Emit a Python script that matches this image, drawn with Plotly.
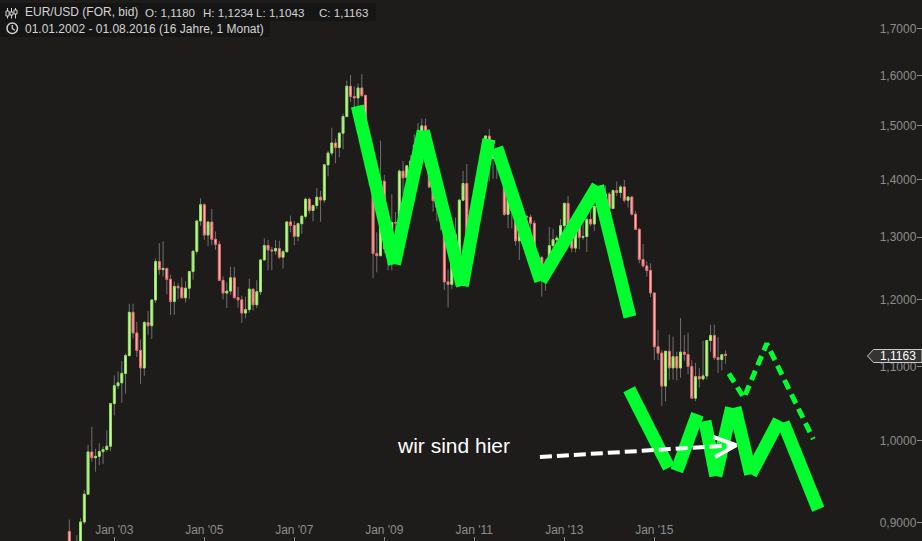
import numpy as np
import plotly.graph_objects as go

W, H = 922, 541

# ---------------- monthly EUR/USD candles, Jan 2002 .. Aug 2016 ----------------
opens = [
    0.8900, 0.8627, 0.8697, 0.8718, 0.9009, 0.9337, 0.9859, 0.9786, 0.9803, 0.9863, 0.9890, 0.9932,
    1.0492, 1.0736, 1.0776, 1.0908, 1.1162, 1.1800, 1.1491, 1.1236, 1.0985, 1.1647, 1.1598, 1.1990,
    1.2597, 1.2468, 1.2486, 1.2312, 1.1965, 1.2201, 1.2180, 1.2023, 1.2173, 1.2436, 1.2765, 1.3273,
    1.3554, 1.3035, 1.3255, 1.2964, 1.2880, 1.2296, 1.2096, 1.2127, 1.2336, 1.2025, 1.1992, 1.1789,
    1.1842, 1.2158, 1.1916, 1.2117, 1.2624, 1.2861, 1.2788, 1.2771, 1.2811, 1.2669, 1.2758, 1.3257,
    1.3197, 1.3013, 1.3227, 1.3354, 1.3651, 1.3453, 1.3541, 1.3686, 1.3637, 1.4268, 1.4486, 1.4675,
    1.4590, 1.4862, 1.5183, 1.5787, 1.5581, 1.5552, 1.5752, 1.5600, 1.4674, 1.4082, 1.2728, 1.2693,
    1.3970, 1.2807, 1.2670, 1.3249, 1.3238, 1.4152, 1.4033, 1.4250, 1.4339, 1.4634, 1.4719, 1.5002,
    1.4320, 1.3865, 1.3627, 1.3510, 1.3296, 1.2272, 1.2233, 1.3049, 1.2681, 1.3634, 1.3929, 1.3000,
    1.3380, 1.3696, 1.3826, 1.4164, 1.4807, 1.4389, 1.4503, 1.4393, 1.4368, 1.3387, 1.3864, 1.3445,
    1.2939, 1.3083, 1.3351, 1.3340, 1.3235, 1.2370, 1.2664, 1.2298, 1.2576, 1.2858, 1.2957, 1.2985,
    1.3193, 1.3578, 1.3060, 1.2818, 1.3169, 1.2998, 1.3010, 1.3302, 1.3222, 1.3525, 1.3583, 1.3591,
    1.3743, 1.3488, 1.3803, 1.3768, 1.3868, 1.3633, 1.3690, 1.3390, 1.3131, 1.2631, 1.2526, 1.2452,
    1.2098, 1.1290, 1.1197, 1.0731, 1.1224, 1.0986, 1.1145, 1.0985, 1.1211, 1.1177, 1.1006, 1.0566,
    1.0862, 1.0831, 1.0873, 1.1380, 1.1453, 1.1132, 1.1104, 1.1180,
]
highs = [
    0.9037, 0.8780, 0.8857, 0.9053, 0.9389, 0.9951, 1.0184, 0.9900, 0.9973, 0.9930, 1.0139, 1.0497,
    1.0879, 1.0938, 1.1082, 1.1193, 1.1932, 1.1932, 1.1658, 1.1397, 1.1672, 1.1822, 1.1999, 1.2647,
    1.2899, 1.2930, 1.2500, 1.2385, 1.2275, 1.2250, 1.2341, 1.2283, 1.2440, 1.2789, 1.3295, 1.3667,
    1.3580, 1.3280, 1.3478, 1.3094, 1.2936, 1.2360, 1.2265, 1.2515, 1.2511, 1.2195, 1.2054, 1.2041,
    1.2323, 1.2161, 1.2299, 1.2638, 1.2979, 1.2953, 1.2840, 1.2950, 1.2941, 1.2790, 1.3264, 1.3366,
    1.3273, 1.3246, 1.3375, 1.3682, 1.3682, 1.3533, 1.3852, 1.3800, 1.4283, 1.4528, 1.4967, 1.4761,
    1.4875, 1.5240, 1.5905, 1.6019, 1.5785, 1.5843, 1.6038, 1.5622, 1.4866, 1.4139, 1.3081, 1.4719,
    1.4088, 1.3055, 1.3739, 1.3429, 1.4187, 1.4338, 1.4265, 1.4445, 1.4844, 1.5062, 1.5144, 1.5145,
    1.4579, 1.3985, 1.3814, 1.3694, 1.3373, 1.2470, 1.3101, 1.3334, 1.3657, 1.4158, 1.4282, 1.3500,
    1.3797, 1.3862, 1.4249, 1.4815, 1.4940, 1.4699, 1.4579, 1.4550, 1.4475, 1.4247, 1.3876, 1.3548,
    1.3235, 1.3487, 1.3386, 1.3384, 1.3283, 1.2748, 1.2692, 1.2637, 1.3172, 1.3140, 1.3031, 1.3308,
    1.3590, 1.3711, 1.3202, 1.3243, 1.3243, 1.3416, 1.3345, 1.3452, 1.3569, 1.3832, 1.3621, 1.3894,
    1.3775, 1.3824, 1.3967, 1.3906, 1.3994, 1.3700, 1.3700, 1.3444, 1.3150, 1.2887, 1.2600, 1.2570,
    1.2104, 1.1534, 1.1239, 1.1225, 1.1467, 1.1436, 1.1216, 1.1714, 1.1459, 1.1495, 1.1094, 1.1059,
    1.0985, 1.1376, 1.1388, 1.1616, 1.1616, 1.1428, 1.1186, 1.1234,
]
lows = [
    0.8594, 0.8565, 0.8677, 0.8694, 0.8984, 0.9331, 0.9737, 0.9611, 0.9692, 0.9705, 0.9862, 0.9867,
    1.0335, 1.0692, 1.0502, 1.0627, 1.1142, 1.1411, 1.1140, 1.0763, 1.0873, 1.1466, 1.1402, 1.1942,
    1.2387, 1.2356, 1.2077, 1.1760, 1.1759, 1.2000, 1.2015, 1.1951, 1.2003, 1.2308, 1.2714, 1.3193,
    1.2955, 1.2850, 1.2871, 1.2788, 1.2290, 1.1998, 1.1868, 1.2070, 1.2011, 1.1870, 1.1640, 1.1710,
    1.1795, 1.1826, 1.1864, 1.2067, 1.2616, 1.2457, 1.2456, 1.2708, 1.2637, 1.2482, 1.2747, 1.3083,
    1.2866, 1.2931, 1.3056, 1.3312, 1.3400, 1.3266, 1.3482, 1.3261, 1.3588, 1.4058, 1.4438, 1.4297,
    1.4409, 1.4558, 1.5170, 1.5475, 1.5285, 1.5302, 1.5568, 1.4605, 1.3882, 1.2329, 1.2424, 1.2681,
    1.2731, 1.2456, 1.2455, 1.2885, 1.3139, 1.3747, 1.3853, 1.4046, 1.4217, 1.4556, 1.4672, 1.4219,
    1.3857, 1.3436, 1.3267, 1.3115, 1.2143, 1.1876, 1.2155, 1.2588, 1.2645, 1.3627, 1.2969, 1.2967,
    1.2867, 1.3445, 1.3746, 1.4106, 1.3968, 1.4013, 1.4014, 1.4053, 1.3363, 1.3147, 1.3145, 1.2857,
    1.2624, 1.2976, 1.3000, 1.2996, 1.2335, 1.2288, 1.2042, 1.2134, 1.2555, 1.2802, 1.2662, 1.2927,
    1.3003, 1.3017, 1.2750, 1.2746, 1.2795, 1.2955, 1.2755, 1.3180, 1.3104, 1.3482, 1.3296, 1.3547,
    1.3477, 1.3479, 1.3705, 1.3673, 1.3589, 1.3503, 1.3366, 1.3130, 1.2571, 1.2500, 1.2358, 1.2035,
    1.1098, 1.1097, 1.0458, 1.0520, 1.0819, 1.0819, 1.0808, 1.0846, 1.1087, 1.0896, 1.0557, 1.0523,
    1.0711, 1.0810, 1.0822, 1.1217, 1.1098, 1.0912, 1.0952, 1.1043,
]
closes = [
    0.8627, 0.8697, 0.8718, 0.9009, 0.9337, 0.9859, 0.9786, 0.9803, 0.9863, 0.9890, 0.9932, 1.0492,
    1.0736, 1.0776, 1.0908, 1.1162, 1.1800, 1.1491, 1.1236, 1.0985, 1.1647, 1.1598, 1.1990, 1.2597,
    1.2468, 1.2486, 1.2312, 1.1965, 1.2201, 1.2180, 1.2023, 1.2173, 1.2436, 1.2765, 1.3273, 1.3554,
    1.3035, 1.3255, 1.2964, 1.2880, 1.2296, 1.2096, 1.2127, 1.2336, 1.2025, 1.1992, 1.1789, 1.1842,
    1.2158, 1.1916, 1.2117, 1.2624, 1.2861, 1.2788, 1.2771, 1.2811, 1.2669, 1.2758, 1.3257, 1.3197,
    1.3013, 1.3227, 1.3354, 1.3651, 1.3453, 1.3541, 1.3686, 1.3637, 1.4268, 1.4486, 1.4675, 1.4590,
    1.4862, 1.5183, 1.5787, 1.5581, 1.5552, 1.5752, 1.5600, 1.4674, 1.4082, 1.2728, 1.2693, 1.3970,
    1.2807, 1.2670, 1.3249, 1.3238, 1.4152, 1.4033, 1.4250, 1.4339, 1.4634, 1.4719, 1.5002, 1.4320,
    1.3865, 1.3627, 1.3510, 1.3296, 1.2272, 1.2233, 1.3049, 1.2681, 1.3634, 1.3929, 1.3000, 1.3380,
    1.3696, 1.3826, 1.4164, 1.4807, 1.4389, 1.4503, 1.4393, 1.4368, 1.3387, 1.3864, 1.3445, 1.2939,
    1.3083, 1.3351, 1.3340, 1.3235, 1.2370, 1.2664, 1.2298, 1.2576, 1.2858, 1.2957, 1.2985, 1.3193,
    1.3578, 1.3060, 1.2818, 1.3169, 1.2998, 1.3010, 1.3302, 1.3222, 1.3525, 1.3583, 1.3591, 1.3743,
    1.3488, 1.3803, 1.3768, 1.3868, 1.3633, 1.3690, 1.3390, 1.3131, 1.2631, 1.2526, 1.2452, 1.2098,
    1.1290, 1.1197, 1.0731, 1.1224, 1.0986, 1.1145, 1.0985, 1.1211, 1.1177, 1.1006, 1.0566, 1.0862,
    1.0831, 1.0873, 1.1380, 1.1453, 1.1132, 1.1104, 1.1174, 1.1163,
]

x_tick_months = [12, 36, 60, 84, 108, 132, 156]
x_tick_labels = ["Jan '03", "Jan '05", "Jan '07", "Jan '09", "Jan '11", "Jan '13", "Jan '15"]
y_tick_values = [0.9, 1.0, 1.1, 1.2, 1.3, 1.4, 1.5, 1.6, 1.7]
y_tick_labels = [f"{v:.4f}".replace(".", ",") for v in y_tick_values]

last_price = 1.1163
header_title = "EUR/USD (FOR, bid)"
header_ohlc = [("O", 1.1180), ("H", 1.1234), ("L", 1.1043), ("C", 1.1163)]
header_period = "01.01.2002 - 01.08.2016 (16 Jahre, 1 Monat)"

# hand-drawn sketch: strokes as (month0, price0, month1, price1)
wave_top = [
    (76.8, 1.539, 86.7, 1.2555),
    (86.7, 1.2555, 94.4, 1.4905),
    (94.4, 1.4905, 104.8, 1.2209),
    (104.8, 1.2209, 111.9, 1.4747),
    (114.0, 1.4588, 125.7, 1.2288),
    (125.7, 1.2288, 140.9, 1.3886),
    (140.9, 1.3886, 149.5, 1.1731),
]
wave_bottom = [
    (149.3, 1.0688, 159.9, 0.9662),
    (162.0, 0.9621, 167.5, 1.0350),
    (169.5, 1.0261, 172.4, 0.9559),
    (172.4, 0.9559, 176.6, 1.0438),
    (177.5, 1.0438, 181.7, 0.9580),
    (181.7, 0.9580, 189.3, 1.0270),
    (190.4, 1.0238, 199.7, 0.9158),
]
dashed_path_m = [175.9, 179.9, 186.0, 198.4]
dashed_path_p = [1.0905, 1.0569, 1.1335, 1.0022]
arrow_m = [125.5, 177.8]
arrow_p = [0.9796, 0.99448]
arrow_head_m = [171.7, 177.8, 172.2]
arrow_head_p = [1.00516, 0.99448, 0.9796]
note_text = "wir sind hier"
note_m, note_p = 102.45, 0.9936

BG = "#1d1c1b"
GREEN = "#00ff2e"
AXIS_GRAY = "#8c8c8c"
FONT = "Liberation Sans, Arial, sans-serif"

months = np.arange(len(closes))
o = np.array(opens); c = np.array(closes)
body_hi = np.maximum(o, c)
body_lo = np.minimum(o, c)

fig = go.Figure()

# wicks (gray)
fig.add_trace(go.Candlestick(
    x=months, open=opens, high=highs, low=lows, close=closes,
    increasing=dict(line=dict(color="#6f6f6f", width=1), fillcolor="#6f6f6f"),
    decreasing=dict(line=dict(color="#6f6f6f", width=1), fillcolor="#6f6f6f"),
    hoverinfo="skip", showlegend=False,
))
# bodies (colored)
fig.add_trace(go.Candlestick(
    x=months, open=opens, high=body_hi, low=body_lo, close=closes,
    increasing=dict(line=dict(color="#8fe852", width=1), fillcolor="#d4f7b8"),
    decreasing=dict(line=dict(color="#f26a6a", width=1), fillcolor="#ffc4c4"),
    hoverinfo="skip", showlegend=False,
))


def seg_xy(segs):
    xs, ys = [], []
    for m0, p0, m1, p1 in segs:
        xs += [m0, m1, None]
        ys += [p0, p1, None]
    return xs, ys


for segs in (wave_top, wave_bottom):
    sx, sy = seg_xy(segs)
    fig.add_trace(go.Scatter(x=sx, y=sy, mode="lines", connectgaps=False,
                             line=dict(color=GREEN, width=13),
                             hoverinfo="skip", showlegend=False))

fig.add_trace(go.Scatter(x=dashed_path_m, y=dashed_path_p, mode="lines",
                         line=dict(color=GREEN, width=5, dash="10px,6px"),
                         hoverinfo="skip", showlegend=False))
fig.add_trace(go.Scatter(x=arrow_m, y=arrow_p, mode="lines",
                         line=dict(color="#ffffff", width=4, dash="12px,5px"),
                         hoverinfo="skip", showlegend=False))
fig.add_trace(go.Scatter(x=arrow_head_m, y=arrow_head_p, mode="lines",
                         line=dict(color="#ffffff", width=4),
                         hoverinfo="skip", showlegend=False))


def px(x):
    return x / W


def py(y):
    return 1 - y / H


shapes = []
# header backgrounds
shapes.append(dict(type="rect", xref="paper", yref="paper", x0=px(0), x1=px(376), y0=py(21), y1=py(3),
                   fillcolor="#151515", line=dict(width=0), layer="below"))
shapes.append(dict(type="rect", xref="paper", yref="paper", x0=px(0), x1=px(270), y0=py(37), y1=py(21),
                   fillcolor="#151515", line=dict(width=0), layer="below"))
# candlestick icon
ICON = "#d2d2d2"
for cx, b0, b1 in [(7.5, 11, 16), (11.5, 12, 15), (15.5, 10, 14)]:
    shapes.append(dict(type="line", xref="paper", yref="paper", x0=px(cx), x1=px(cx), y0=py(8), y1=py(18.5),
                       line=dict(color=ICON, width=1)))
    shapes.append(dict(type="rect", xref="paper", yref="paper", x0=px(cx - 1.5), x1=px(cx + 1.5),
                       y0=py(b1), y1=py(b0), fillcolor="#151515", line=dict(color=ICON, width=1)))
# clock icon
shapes.append(dict(type="circle", xref="paper", yref="paper", x0=px(7), x1=px(17.5), y0=py(33.5), y1=py(23),
                   line=dict(color=ICON, width=1.5)))
shapes.append(dict(type="path", xref="paper", yref="paper",
                   path=f"M {px(12.25)} {py(25)} L {px(12.25)} {py(28.5)} L {px(14.8)} {py(30.3)}",
                   line=dict(color=ICON, width=1.3)))
# price tag
pts = [(867.5, 356), (873.5, 349.5), (922, 349.5), (922, 362.5), (873.5, 362.5)]
path = "M " + " L ".join(f"{px(a)} {py(b)}" for a, b in pts) + " Z"
shapes.append(dict(type="path", xref="paper", yref="paper", path=path,
                   fillcolor="#343434", line=dict(color="#c8c8c8", width=1), layer="above"))

annotations = []
HEAD = "#d4d4d4"
annotations.append(dict(xref="paper", yref="paper", x=px(23), y=py(12.5), text=header_title,
                        showarrow=False, xanchor="left", yanchor="middle",
                        font=dict(family=FONT, size=12, color=HEAD)))
for (lab, val), xpos in zip(header_ohlc, [144, 201.5, 254.5, 318]):
    annotations.append(dict(xref="paper", yref="paper", x=px(xpos), y=py(12.5),
                            text=f"{lab}: {val:.4f}".replace(".", ","),
                            showarrow=False, xanchor="left", yanchor="middle", borderpad=0,
                            font=dict(family=FONT, size=11.6, color=HEAD)))
annotations.append(dict(xref="paper", yref="paper", x=px(23), y=py(28.5), text=header_period,
                        showarrow=False, xanchor="left", yanchor="middle",
                        font=dict(family=FONT, size=12, color=HEAD)))
annotations.append(dict(xref="x", yref="y", x=note_m, y=float(np.log10(note_p)), text=note_text,
                        showarrow=False, xanchor="center", yanchor="middle",
                        font=dict(family=FONT, size=21, color="#ffffff")))
annotations.append(dict(xref="paper", yref="paper", x=px(897.5), y=py(356),
                        text=f"{last_price:.4f}".replace(".", ","),
                        showarrow=False, xanchor="center", yanchor="middle",
                        font=dict(family=FONT, size=12, color="#ffffff")))

x_left = -69.3 / 3.75
x_right = (W - 69.3) / 3.75

fig.update_layout(
    width=W, height=H,
    margin=dict(l=0, r=0, t=0, b=0),
    paper_bgcolor=BG, plot_bgcolor=BG,
    showlegend=False, hovermode=False,
    font=dict(family=FONT, size=12, color=AXIS_GRAY),
    shapes=shapes, annotations=annotations,
    boxgap=0.3,
    xaxis=dict(range=[x_left, x_right], rangeslider=dict(visible=False),
               tickvals=x_tick_months, ticktext=x_tick_labels,
               ticks="inside", ticklen=4, tickcolor=AXIS_GRAY, tickwidth=1,
               ticklabelposition="inside", tickfont=dict(family=FONT, size=12, color=AXIS_GRAY),
               showgrid=False, zeroline=False, showline=False, fixedrange=True),
    yaxis=dict(type="log", range=[-0.05597, 0.24654], side="right",
               tickvals=y_tick_values, ticktext=y_tick_labels,
               ticks="inside", ticklen=5, tickcolor=AXIS_GRAY, tickwidth=1,
               ticklabelposition="inside", tickfont=dict(family=FONT, size=12, color=AXIS_GRAY),
               showgrid=False, zeroline=False, showline=False, fixedrange=True),
)

fig.write_html(
    "out.html",
    config={"displayModeBar": False},
    post_script="document.body.style.margin='0';document.body.style.background='%s';"
                "document.body.style.overflow='hidden';" % BG,
)
